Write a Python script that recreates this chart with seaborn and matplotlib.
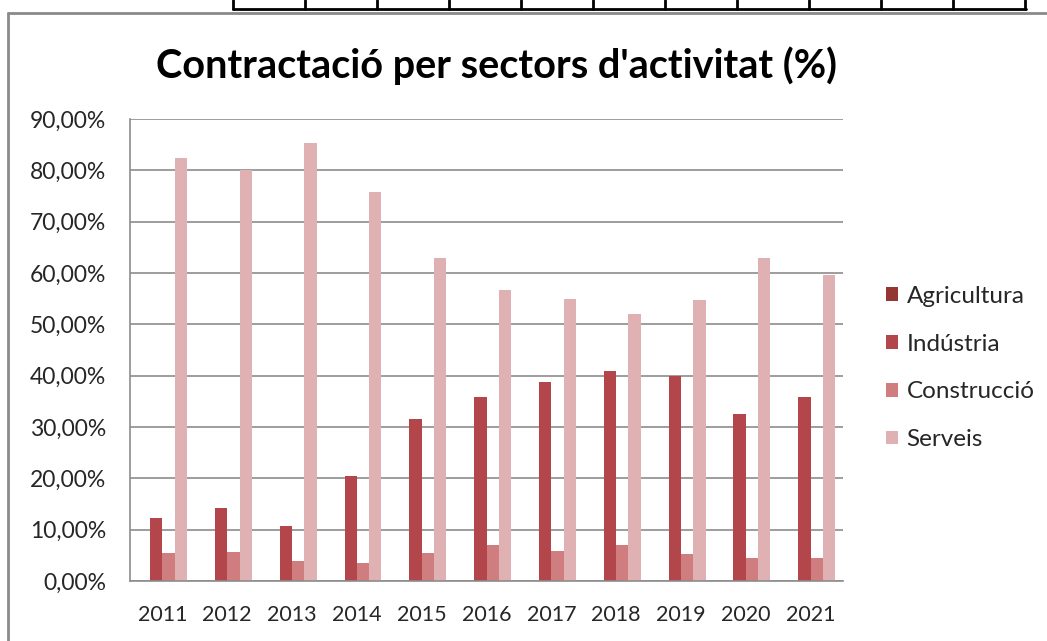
import matplotlib
matplotlib.use("Agg")
import matplotlib.pyplot as plt
from matplotlib.lines import Line2D
from matplotlib.ticker import FuncFormatter
import seaborn as sns
import pandas as pd

# --- DADES ---
anys = ["2011", "2012", "2013", "2014", "2015", "2016", "2017", "2018", "2019", "2020", "2021"]
sectors = ["Agricultura", "Indústria", "Construcció", "Serveis"]
agricultura = [0.0, 0.0, 0.0, 0.0, 0.0, 0.0, 0.0, 0.0, 0.0, 0.0, 0.0]
industria = [12.3, 14.2, 10.7, 20.5, 31.6, 35.9, 38.8, 40.9, 40.0, 32.6, 35.9]
construccio = [5.5, 5.6, 3.9, 3.5, 5.4, 7.0, 5.8, 7.0, 5.3, 4.5, 4.5]
serveis = [82.4, 80.1, 85.4, 75.8, 63.0, 56.7, 55.0, 52.0, 54.8, 63.0, 59.6]
colors = ["#943634", "#B3464A", "#CF7D7F", "#E0B1B3"]

df = pd.DataFrame({
    "any": anys * 4,
    "sector": [s for s in sectors for _ in anys],
    "valor": agricultura + industria + construccio + serveis,
})

sns.set_theme(style="white")
plt.rcParams["font.family"] = ["Lato", "DejaVu Sans"]
txt = "#262626"
grid = "#8c8c8c"

fig = plt.figure(figsize=(10.47, 6.41), dpi=100)
W, H = 1047, 641
ax = fig.add_axes([130 / W, 60 / H, (843 - 130) / W, (581 - 119) / H])

sns.barplot(data=df, x="any", y="valor", hue="sector", hue_order=sectors,
            palette=colors, width=0.76, gap=0, saturation=1, errorbar=None,
            linewidth=0, ax=ax)

ax.set_ylim(0, 90)
ax.set_yticks(range(0, 91, 10))
ax.yaxis.set_major_formatter(FuncFormatter(lambda v, p: f"{v:.2f}%".replace(".", ",")))
ax.yaxis.grid(True, color=grid, lw=1.2)
ax.set_axisbelow(True)
ax.set_xlabel("")
ax.set_ylabel("")
for s in ["top", "right"]:
    ax.spines[s].set_visible(False)
for s in ["left", "bottom"]:
    ax.spines[s].set_color(grid)
    ax.spines[s].set_linewidth(1.2)
ax.tick_params(axis="y", length=0, pad=17, labelsize=16.5, labelcolor=txt)
ax.tick_params(axis="x", length=0, pad=17, labelsize=15.5, labelcolor=txt)

handles, labels = ax.get_legend_handles_labels()
ax.legend(handles, labels, loc="center left", bbox_to_anchor=(864 / W, 1 - 368 / H),
          bbox_transform=fig.transFigure, frameon=False, fontsize=17.5,
          handlelength=0.5, handleheight=0.5, handletextpad=0.35,
          labelspacing=1.1, labelcolor=txt)

fig.text(496 / W, 1 - 66 / H, "Contractació per sectors d'activitat (%)",
         ha="center", va="center", fontsize=28.5, fontweight="bold", color="black")

# marc del gràfic
fig.add_artist(Line2D([8 / W, 8 / W], [0, 1 - 13 / H], transform=fig.transFigure,
                      color="#8a8a8a", lw=2))
fig.add_artist(Line2D([8 / W, 1], [1 - 13 / H, 1 - 13 / H], transform=fig.transFigure,
                      color="#8a8a8a", lw=2))
# restes de la taula superior
fig.add_artist(Line2D([233 / W, 1026 / W], [1 - 9 / H, 1 - 9 / H], transform=fig.transFigure,
                      color="black", lw=2))
for x in [233, 305, 377, 449, 521, 593, 665, 737, 809, 881, 953, 1025]:
    fig.add_artist(Line2D([x / W, x / W], [1 - 9 / H, 1], transform=fig.transFigure,
                          color="black", lw=2))

fig.savefig("out.png", dpi=100)
